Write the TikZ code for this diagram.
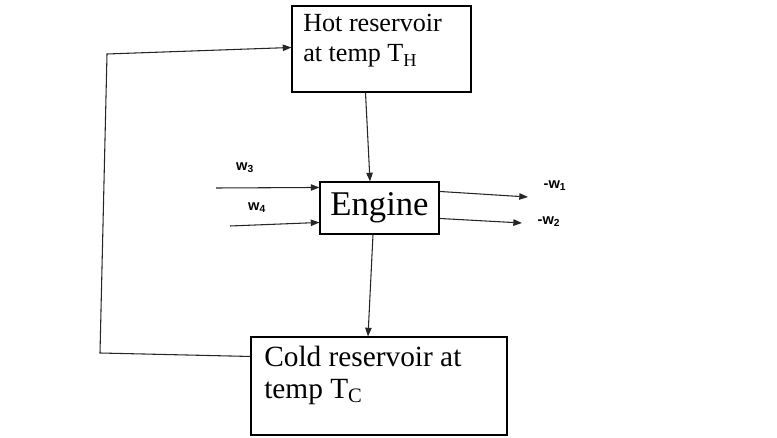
\documentclass[tikz,border=0pt]{standalone}
\usepackage{fontspec}
\setmainfont{Liberation Serif}
\newfontfamily\labfont{Liberation Sans}
\usetikzlibrary{arrows.meta,calc}
\begin{document}
\begin{tikzpicture}[x=0.75pt,y=-0.75pt,
  box/.style={draw=black, line width=0.8pt, inner sep=0pt},
  conn/.style={draw=black!85, line width=0.8pt},
  arr/.style={conn, -{Triangle[length=6.5pt,width=4.8pt]}},
  hottext/.style={anchor=base west, inner sep=0pt, font=\fontsize{19.6}{22}\selectfont},
  coldtext/.style={anchor=base west, inner sep=0pt, font=\fontsize{22}{24}\selectfont},
  wlab/.style={inner sep=0pt, font=\labfont\bfseries\fontsize{11}{12}\selectfont}]
\useasboundingbox (0,0) rectangle (777,438);
% boxes
\node[box, minimum width=179*0.75pt, minimum height=86*0.75pt] (hot) at (381.5,49) {};
\node[box, minimum width=119*0.75pt, minimum height=52*0.75pt, font=\fontsize{26}{28}\selectfont] (engine) at (379.5,208) {Engine};
\node[box, minimum width=256*0.75pt, minimum height=98*0.75pt] (cold) at (379,386) {};
% box texts
\node[hottext] (hot1) at (303,32) {Hot reservoir};
\node[hottext] (hot2) at (303,62) {at temp T\textsubscript{H}};
\node[coldtext] (cold1) at (264,366) {Cold reservoir at};
\node[coldtext] (cold2) at (264,398) {temp T\textsubscript{C}};
% work labels
\node[wlab] (w3) at (245,168) {w\textsubscript{3}};
\node[wlab] (w4) at (257,208) {w\textsubscript{4}};
\node[wlab] (w1) at (555,186) {-w\textsubscript{1}};
\node[wlab] (w2) at (549,222) {-w\textsubscript{2}};
% free ends
\coordinate (in3) at (216,188);
\coordinate (in4) at (230,226);
\coordinate (out1) at (528,197);
\coordinate (out2) at (522,223);
\coordinate (lb) at (100,353);
\coordinate (lt) at (107,54);
% connectors
\draw[arr] ($(hot.south)+(-16,0)$) -- ($(engine.north)+(-9.5,0)$);
\draw[arr] ($(engine.south)+(-6.5,0)$) -- ($(cold.north)+(-11,0)$);
\draw[arr] (in3) -- ($(engine.north west)+(0,6)$);
\draw[arr] (in4) -- ($(engine.north west)+(0,41)$);
\draw[arr] ($(engine.north east)+(0,10)$) -- (out1);
\draw[arr] ($(engine.north east)+(0,37)$) -- (out2);
\draw[arr] ($(cold.north west)+(0,20)$) -- (lb) -- (lt) -- ($(hot.north west)+(0,42)$);
\end{tikzpicture}
\end{document}
